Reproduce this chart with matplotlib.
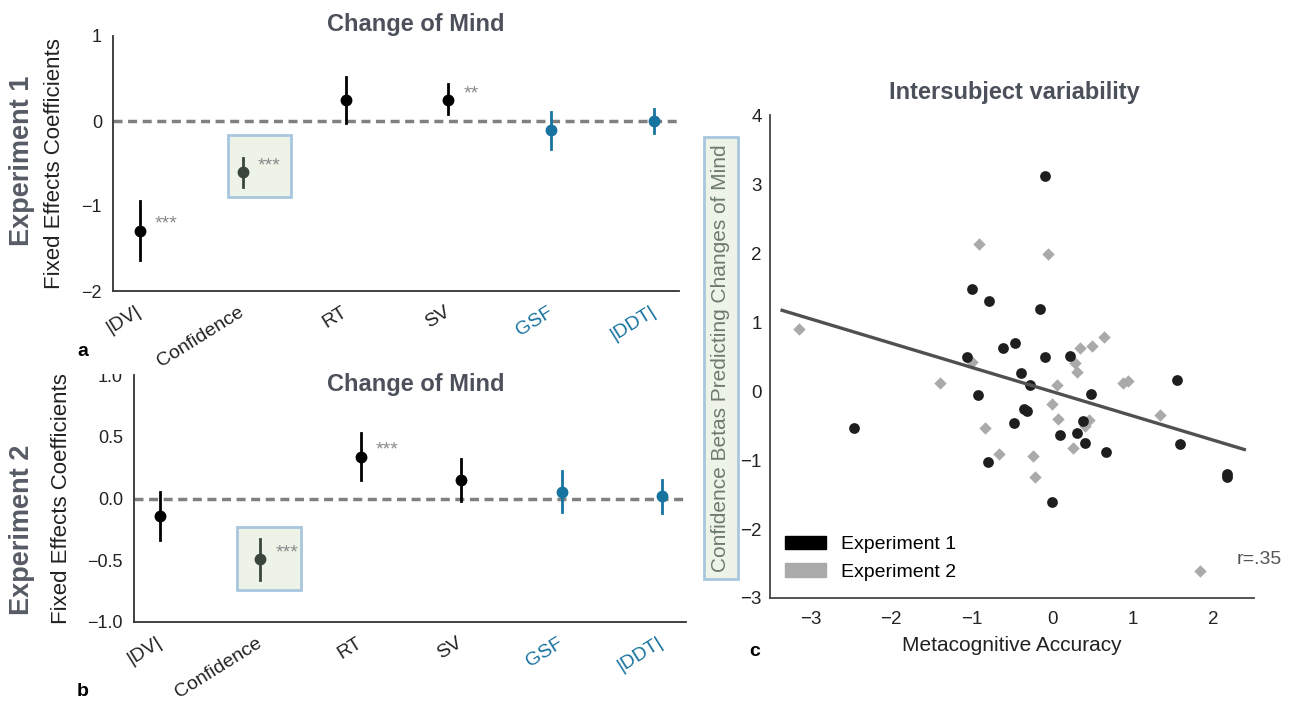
import matplotlib
matplotlib.use("Agg")
import matplotlib.pyplot as plt
from matplotlib.patches import Rectangle, Patch
import numpy as np

plt.rcParams['font.family'] = ['Liberation Sans', 'DejaVu Sans']

# coefficient panels
predictors = ['|DV|', 'Confidence', 'RT', 'SV', 'GSF', '|DDT|']
exp1_coef = [-1.29, -0.60, 0.25, 0.25, -0.11, 0.00]
exp1_lo = [-1.64, -0.78, -0.02, 0.08, -0.33, -0.14]
exp1_hi = [-0.94, -0.43, 0.52, 0.43, 0.11, 0.14]
exp1_stars = ['***', '***', '', '**', '', '']
exp2_coef = [-0.14, -0.49, 0.34, 0.15, 0.05, 0.02]
exp2_lo = [-0.34, -0.66, 0.15, -0.02, -0.11, -0.12]
exp2_hi = [0.05, -0.33, 0.53, 0.32, 0.22, 0.15]
exp2_stars = ['', '***', '***', '', '', '']

# intersubject scatter
exp1_x = [-0.09, -1.00, -0.78, -0.15, -0.61, -0.46, -1.06, -0.09, 0.22, -0.39,
          -0.28, -0.92, 0.48, 1.55, -2.46, -0.35, -0.31, -0.48, 0.38, 0.09,
          0.30, 0.40, 0.67, -0.80, -0.01, 1.58, 2.16, 2.16]
exp1_y = [3.11, 1.48, 1.31, 1.19, 0.63, 0.70, 0.49, 0.49, 0.51, 0.26,
          0.09, -0.06, -0.04, 0.16, -0.53, -0.26, -0.29, -0.47, -0.43, -0.64,
          -0.61, -0.75, -0.88, -1.03, -1.61, -0.77, -1.20, -1.25]
exp2_x = [-3.14, -0.91, -0.05, -0.99, -1.39, 0.34, 0.49, 0.64, 0.28, 0.30,
          0.06, 0.88, 0.94, -0.01, 0.07, -0.83, 0.45, 0.40, 1.33, -0.66,
          -0.24, -0.21, 0.26, 1.83]
exp2_y = [0.90, 2.13, 1.99, 0.42, 0.12, 0.63, 0.65, 0.78, 0.40, 0.28,
          0.08, 0.11, 0.15, -0.19, -0.41, -0.54, -0.42, -0.50, -0.35, -0.91,
          -0.94, -1.25, -0.83, -2.61]
fit_slope = -0.352
fit_intercept = -0.01
fit_range = [-3.35, 2.38]

W, H = 1294, 704
BLUE = '#17739f'
TITLE_C = '#4b505a'


def fx(x):
    return x / W


def fy(y):
    return 1 - y / H


def box(l, t, r, b):
    return [fx(l), fy(b), (r - l) / W, (b - t) / H]


def coef_panel(ax, coef, lo, hi, stars, ylim, yticks, hl_box):
    x = np.arange(len(predictors))
    ax.axhline(0, color='#808080', lw=2.5, ls=(0, (2.6, 1.6)), zorder=1)
    l, r, b, t = hl_box
    ax.add_patch(Rectangle((1 + l, b), r - l, t - b, facecolor='#eef3e8',
                           edgecolor='#a9c6df', lw=2, zorder=0))
    for i in x:
        if i == 1:
            c = '#3a463c'
        elif i >= 4:
            c = BLUE
        else:
            c = 'black'
        ax.plot([i, i], [lo[i], hi[i]], color=c, lw=2, zorder=3)
        ax.plot(i, coef[i], 'o', color=c, ms=7.5, zorder=4)
        if stars[i]:
            ax.annotate(stars[i], (i, coef[i]), xytext=(11, 4.5),
                        textcoords='offset points', ha='left', va='center',
                        color='#8a8a8a', fontsize=14)
    ax.set_xlim(-0.26, 5.24)
    ax.set_ylim(*ylim)
    ax.set_yticks(yticks)
    ax.set_xticks(x)
    ax.set_xticklabels(predictors, rotation=32, ha='right', va='center',
                       rotation_mode='anchor', fontsize=14, color='#222222')
    for lab in ax.get_xticklabels()[4:]:
        lab.set_color(BLUE)
    ax.tick_params(axis='y', length=0, pad=8, labelsize=13, colors='#222222')
    ax.tick_params(axis='x', length=0, pad=14)
    for s in ['top', 'right']:
        ax.spines[s].set_visible(False)
    for s in ['left', 'bottom']:
        ax.spines[s].set_color('#333333')
        ax.spines[s].set_linewidth(1.3)
    ax.set_ylabel('Fixed Effects Coefficients', fontsize=16, color='#222222')


fig = plt.figure(figsize=(W / 100, H / 100), dpi=100)

ax_a = fig.add_axes(box(113, 36, 679, 291))
coef_panel(ax_a, exp1_coef, exp1_lo, exp1_hi, exp1_stars, (-2, 1),
           [-2, -1, 0, 1], (-0.14, 0.47, -0.89, -0.17))
ax_a.yaxis.set_label_coords(-0.085, 0.5)

ax_b = fig.add_axes(box(134, 375, 686, 622))
coef_panel(ax_b, exp2_coef, exp2_lo, exp2_hi, exp2_stars, (-1, 1),
           [-1.0, -0.5, 0.0, 0.5, 1.0], (-0.23, 0.40, -0.74, -0.234))
ax_b.set_yticklabels(['\u22121.0', '\u22120.5', '0.0', '0.5', '1.0'])
ax_b.yaxis.set_label_coords(-0.112, 0.5)

fig.text(fx(416), fy(25), 'Change of Mind', ha='center', va='center',
         fontsize=17, fontweight='bold', color=TITLE_C)
fig.text(fx(416), fy(385), 'Change of Mind', ha='center', va='center',
         fontsize=17, fontweight='bold', color=TITLE_C)
fig.text(fx(22), fy(161), 'Experiment 1', rotation=90, ha='center',
         va='center', fontsize=19.5, fontweight='bold', color='#565b65')
fig.text(fx(22), fy(530), 'Experiment 2', rotation=90, ha='center',
         va='center', fontsize=19.5, fontweight='bold', color='#565b65')
fig.text(fx(83), fy(352), 'a', ha='center', va='center', fontsize=14,
         fontweight='bold')
fig.text(fx(83), fy(692), 'b', ha='center', va='center', fontsize=14,
         fontweight='bold')
# top of the 1.0 label is cut off in the original figure
fig.add_artist(Rectangle((fx(92), fy(374)), (131 - 92) / W, 30 / H,
                         transform=fig.transFigure, facecolor='white',
                         edgecolor='none', zorder=10))

# panel c
ax_c = fig.add_axes(box(770, 115, 1254, 598))
ax_c.scatter(exp2_x, exp2_y, marker='D', s=40, color='#aaaaaa', lw=0, zorder=2)
ax_c.scatter(exp1_x, exp1_y, marker='o', s=60, color='#1e1e1e', lw=0, zorder=3)
xs = np.array(fit_range)
ax_c.plot(xs, fit_slope * xs + fit_intercept, color='#505050', lw=2.4, zorder=4)
ax_c.set_xlim(-3.5, 2.5)
ax_c.set_ylim(-3, 4)
ax_c.set_xticks([-3, -2, -1, 0, 1, 2])
ax_c.set_yticks([-3, -2, -1, 0, 1, 2, 3, 4])
ax_c.tick_params(length=0, labelsize=13.5, colors='#222222')
ax_c.tick_params(axis='y', pad=6)
ax_c.tick_params(axis='x', pad=9)
for s in ['top', 'right']:
    ax_c.spines[s].set_visible(False)
for s in ['left', 'bottom']:
    ax_c.spines[s].set_color('#444444')
    ax_c.spines[s].set_linewidth(1.3)
ax_c.set_xlabel('Metacognitive Accuracy', fontsize=15, color='#222222',
                labelpad=6)
ax_c.text(0.965, 0.079, 'r=.35', transform=ax_c.transAxes, ha='left',
          va='center', fontsize=14, color='#555555')
handles = [Patch(color='black', label='Experiment 1'),
           Patch(color='#aaaaaa', label='Experiment 2')]
ax_c.legend(handles=handles, loc='lower left', bbox_to_anchor=(0.015, 0.02),
            frameon=False, fontsize=14, handlelength=2.1, handleheight=0.7,
            handletextpad=0.8, labelspacing=0.5, borderaxespad=0)

fig.text(fx(721), fy(358), 'Confidence Betas Predicting Changes of Mind',
         rotation=90, ha='center', va='center', fontsize=15, color='#6e7a70',
         bbox=dict(boxstyle='square,pad=0.35', facecolor='#eef3e8',
                   edgecolor='#a9c6df', lw=2))
fig.text(fx(1014), fy(93), 'Intersubject variability', ha='center',
         va='center', fontsize=17, fontweight='bold', color=TITLE_C)
fig.text(fx(755), fy(652), 'c', ha='center', va='center', fontsize=14,
         fontweight='bold')

fig.savefig('out.png', dpi=100)
